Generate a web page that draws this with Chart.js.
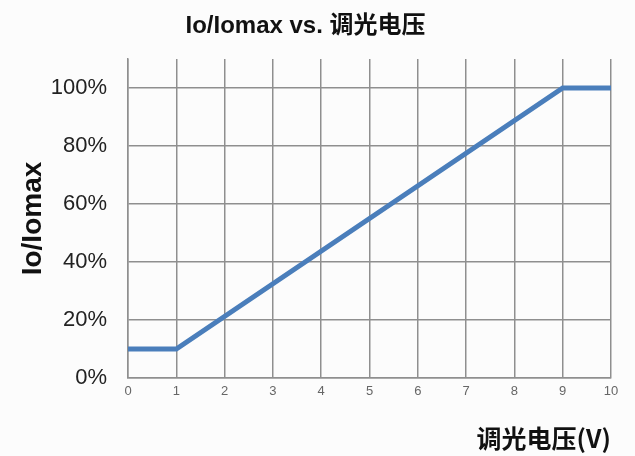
<!DOCTYPE html>
<html>
<head>
<meta charset="utf-8">
<script src="https://cdn.jsdelivr.net/npm/chart.js@4"></script>
<style>
    html, body { margin: 0; padding: 0; background: #fcfcfc; }
    #wrap { width: 635px; height: 456px; }
</style>
</head>
<body>
<div id="wrap"><canvas id="dimChart" width="635" height="456"></canvas></div>
<script>
// dimming voltage (V) at the corners of the curve
const voltages = [0, 1, 9, 10];
// Io/Iomax in percent
const ratios = [10, 10, 100, 100];
const xTicks = [0, 1, 2, 3, 4, 5, 6, 7, 8, 9, 10];
const yTicks = [0, 20, 40, 60, 80, 100];

const points = voltages.map((v, i) => ({ x: v, y: ratios[i] }));

const ctx = document.getElementById('dimChart').getContext('2d');

new Chart(ctx, {
    type: 'line',
    data: {
        datasets: [{
            label: 'Io/Iomax',
            data: points,
            borderColor: '#4a7ebb',
            borderWidth: 5,
            pointRadius: 0,
            tension: 0,
            fill: false
        }]
    },
    options: {
        responsive: false,
        animation: false,
        layout: { padding: { left: 0, right: 24, top: 0, bottom: 0 } },
        plugins: {
            legend: { display: false },
            tooltip: { enabled: false },
            title: {
                display: true,
                text: 'Io/Iomax vs. 调光电压',
                color: '#111',
                font: { family: 'Liberation Sans, "Noto Sans CJK SC", sans-serif', size: 24, weight: 'bold', lineHeight: 1.2 },
                padding: { top: 12, bottom: 18.2 }
            }
        },
        scales: {
            x: {
                type: 'linear',
                min: 0,
                max: 10,
                afterBuildTicks: (scale) => { scale.ticks = xTicks.map(v => ({ value: v })); },
                afterFit: (scale) => { scale.height = 78; },
                grid: { color: '#8f8f8f', lineWidth: 1.5, drawTicks: false },
                border: { color: '#8f8f8f', width: 1.5 },
                ticks: {
                    padding: 6,
                    color: '#666',
                    font: { family: 'Liberation Sans', size: 13 }
                },
                title: {
                    display: true,
                    text: '调光电压(V)',
                    align: 'end',
                    color: '#111',
                    font: { family: '"Noto Sans CJK SC", sans-serif', size: 25, weight: 'bold', lineHeight: 1.2 },
                    padding: { top: 0, bottom: 3 }
                }
            },
            y: {
                type: 'linear',
                min: 0,
                max: 110,
                afterBuildTicks: (scale) => {
                    const ticks = [];
                    for (let v = 0; v <= 110; v += 10) ticks.push({ value: v });
                    scale.ticks = ticks;
                },
                afterFit: (scale) => { scale.width = 128; },
                grid: {
                    color: (c) => (c.tick && yTicks.includes(c.tick.value)) ? '#8f8f8f' : '#d0d0d0',
                    lineWidth: 1.5,
                    drawTicks: false
                },
                border: { color: '#8f8f8f', width: 1.5 },
                ticks: {
                    padding: 21,
                    color: '#222',
                    font: { family: 'Liberation Sans', size: 22 },
                    callback: (v) => yTicks.includes(v) ? v + '%' : ''
                },
                title: {
                    display: true,
                    text: 'Io/Iomax',
                    color: '#111',
                    font: { family: 'Liberation Sans', size: 28, weight: 'bold', lineHeight: 1.2 },
                    padding: { top: 16, bottom: 0 }
                }
            }
        }
    }
});
</script>
</body>
</html>
